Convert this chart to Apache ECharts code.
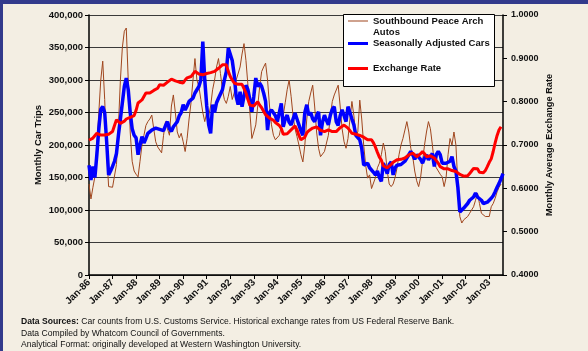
<!DOCTYPE html>
<html>
<head>
<meta charset="utf-8">
<script src="https://cdn.jsdelivr.net/npm/echarts@6/dist/echarts.min.js"></script>
<style>
  html, body { margin: 0; padding: 0; background: #F3EEE3; }
  #chart { width: 588px; height: 351px; }
</style>
</head>
<body>
<div id="chart"></div>
<script>
// Monthly series, January 1986 onward
const monthNames = ['Jan','Feb','Mar','Apr','May','Jun','Jul','Aug','Sep','Oct','Nov','Dec'];
const yearSuffixes = ['86','87','88','89','90','91','92','93','94','95','96','97','98','99','00','01','02','03'];

// Southbound Peace Arch autos (raw monthly counts)
const southboundAutos = [
  140000,117000,135000,151000,200000,250000,300000,329000,270000,190000,136000,135000,
  135000,135000,170000,230000,300000,350000,375000,380000,300000,220000,175000,160000,
  155000,151000,175000,200000,215000,230000,236000,240000,246000,225000,205000,197000,
  195000,188000,215000,236000,225000,215000,260000,277000,250000,220000,211000,218000,
  205000,190000,210000,240000,265000,300000,333000,300000,290000,270000,250000,236000,
  250000,245000,260000,285000,300000,320000,333000,310000,285000,270000,264000,275000,
  290000,270000,280000,300000,303000,320000,340000,356000,330000,292000,250000,210000,
  220000,231000,260000,290000,313000,320000,326000,300000,260000,231000,215000,208000,
  208000,215000,230000,246000,265000,285000,300000,275000,245000,225000,213000,200000,
  185000,174000,200000,240000,267000,280000,292000,260000,220000,195000,182000,185000,
  190000,190000,215000,245000,267000,277000,280000,292000,260000,225000,205000,195000,
  210000,240000,267000,245000,215000,220000,269000,240000,200000,169000,149000,154000,
  133000,135000,150000,165000,172000,185000,203000,190000,160000,140000,136000,140000,
  150000,165000,185000,200000,210000,223000,236000,220000,195000,182000,160000,145000,
  136000,150000,175000,200000,220000,236000,225000,200000,172000,165000,160000,155000,
  151000,136000,150000,185000,210000,200000,220000,200000,140000,90000,80000,85000,
  88000,90000,95000,100000,105000,115000,126000,110000,95000,92000,90000,88000,
  90000,105000,110000,118000,128000,135000,140000
];

// Seasonally adjusted cars
const adjustedCars = [
  169000,146000,167000,150000,185000,225000,255000,259000,250000,205000,154000,160000,
  167000,175000,187000,215000,240000,265000,290000,303000,285000,250000,225000,215000,
  211000,185000,200000,213000,203000,210000,218000,220000,223000,220000,226000,225000,
  224000,224000,222000,230000,236000,225000,221000,228000,232000,236000,245000,250000,
  262000,254000,260000,267000,264000,272000,280000,282000,290000,300000,359000,300000,
  260000,231000,218000,262000,250000,265000,272000,272000,285000,300000,313000,349000,
  346000,330000,308000,275000,262000,282000,259000,275000,292000,285000,270000,251000,
  275000,303000,290000,295000,290000,280000,267000,223000,250000,254000,251000,245000,
  236000,250000,264000,228000,240000,246000,235000,231000,240000,249000,240000,231000,
  222000,215000,250000,262000,246000,250000,240000,236000,245000,251000,215000,235000,
  246000,238000,231000,246000,255000,259000,236000,230000,245000,254000,245000,236000,
  259000,250000,240000,231000,215000,212000,208000,195000,169000,172000,172000,165000,
  162000,158000,154000,160000,150000,144000,172000,165000,156000,170000,174000,154000,
  165000,169000,172000,170000,172000,175000,180000,185000,190000,185000,178000,185000,
  182000,178000,172000,180000,185000,177000,180000,187000,167000,185000,190000,185000,
  172000,170000,172000,169000,175000,182000,167000,160000,135000,97000,100000,103000,
  105000,110000,115000,115000,120000,126000,120000,123000,115000,110000,110000,112000,
  115000,118000,122000,128000,135000,141000,148000,156000
];

// Monthly average exchange rate (US$ per C$)
const exchangeRate = [
  0.711,0.712,0.716,0.720,0.727,0.725,0.723,0.722,0.723,0.723,0.725,0.728,
  0.731,0.745,0.758,0.755,0.750,0.752,0.755,0.760,0.762,0.764,0.765,0.768,
  0.780,0.797,0.800,0.804,0.812,0.820,0.818,0.820,0.823,0.826,0.828,0.831,
  0.839,0.840,0.838,0.842,0.845,0.848,0.852,0.852,0.848,0.845,0.845,0.845,
  0.843,0.850,0.855,0.858,0.858,0.862,0.870,0.873,0.864,0.862,0.862,0.863,
  0.865,0.866,0.867,0.869,0.870,0.873,0.877,0.880,0.885,0.889,0.885,0.870,
  0.858,0.850,0.843,0.842,0.840,0.839,0.840,0.838,0.820,0.805,0.792,0.789,
  0.790,0.795,0.800,0.792,0.786,0.778,0.770,0.766,0.762,0.758,0.757,0.752,
  0.748,0.745,0.738,0.725,0.723,0.726,0.730,0.735,0.739,0.744,0.735,0.722,
  0.712,0.712,0.718,0.728,0.733,0.736,0.739,0.741,0.742,0.738,0.734,0.731,
  0.731,0.733,0.735,0.733,0.731,0.730,0.731,0.735,0.740,0.744,0.746,0.742,
  0.739,0.733,0.727,0.723,0.725,0.723,0.722,0.723,0.718,0.714,0.712,0.712,
  0.712,0.705,0.695,0.683,0.672,0.665,0.652,0.648,0.647,0.646,0.655,0.660,
  0.664,0.666,0.666,0.667,0.668,0.670,0.673,0.677,0.681,0.681,0.677,0.673,
  0.675,0.680,0.685,0.680,0.673,0.673,0.675,0.677,0.670,0.664,0.658,0.650,
  0.648,0.645,0.648,0.645,0.642,0.641,0.640,0.639,0.636,0.632,0.630,0.628,
  0.627,0.629,0.634,0.640,0.646,0.650,0.645,0.637,0.635,0.636,0.641,0.650,
  0.660,0.668,0.685,0.705,0.722,0.735,0.742
];

// Category axis: one slot per month through Aug-03
const months = [];
yearSuffixes.forEach(y => monthNames.forEach(m => months.push(m + '-' + y)));
const categories = months.slice(0, adjustedCars.length);

const FONT = '"Liberation Sans", Arial, sans-serif';
const isJanuary = (idx) => idx % 12 === 0;

// Legend icons: a line drawn at the top of a taller box so it sits beside the first text line
const thinIcon = 'path://M0,0L20,0L20,1L0,1Z M0,12L0.01,12';

const chart = echarts.init(document.getElementById('chart'), null, { renderer: 'canvas' });

chart.setOption({
  backgroundColor: '#F3EEE3',
  animation: false,
  grid: { left: 89, right: 85, top: 15, bottom: 76, containLabel: false },
  xAxis: {
    type: 'category',
    data: categories,
    boundaryGap: false,
    axisLine: { lineStyle: { color: '#000', width: 1.5 } },
    axisTick: { show: true, interval: (idx) => isJanuary(idx), length: 4, lineStyle: { color: '#000' } },
    axisLabel: {
      interval: (idx) => isJanuary(idx),
      rotate: 45,
      margin: 6,
      fontFamily: FONT, fontSize: 9.8, fontWeight: 'bold', color: '#111'
    },
    splitLine: { show: false }
  },
  yAxis: [
    {
      type: 'value',
      min: 0, max: 400000, interval: 50000,
      name: 'Monthly Car Trips',
      nameLocation: 'middle',
      nameRotate: 90,
      nameGap: 46,
      nameMoveOverlap: false,
      nameTextStyle: { fontFamily: FONT, fontSize: 9.5, fontWeight: 'bold', color: '#111' },
      axisLine: { show: true, lineStyle: { color: '#000', width: 1.5 } },
      axisTick: { show: true, length: 4, lineStyle: { color: '#000' } },
      axisLabel: {
        margin: 6,
        fontFamily: FONT, fontSize: 9.5, fontWeight: 'bold', color: '#111',
        formatter: (v) => v.toLocaleString('en-US')
      },
      splitLine: { show: true, lineStyle: { color: '#3a3a3a', width: 1 } }
    },
    {
      type: 'value',
      min: 0.4, max: 1.0, interval: 0.1,
      position: 'right',
      name: 'Monthly Average Exchange Rate',
      nameLocation: 'middle',
      nameRotate: 90,
      nameGap: 42,
      nameMoveOverlap: false,
      nameTextStyle: { fontFamily: FONT, fontSize: 9.2, fontWeight: 'bold', color: '#111' },
      axisLine: { show: true, lineStyle: { color: '#000', width: 1.5 } },
      axisTick: { show: true, length: 4, lineStyle: { color: '#000' } },
      axisLabel: {
        margin: 8,
        fontFamily: FONT, fontSize: 9, fontWeight: 'bold', color: '#111',
        formatter: (v) => v.toFixed(4)
      },
      splitLine: { show: false }
    }
  ],
  legend: [
    {
      data: ['Southbound Peace Arch Autos'],
      left: 348, top: 15.5, padding: 0,
      itemWidth: 20, itemHeight: 12, icon: thinIcon,
      formatter: () => 'Southbound Peace Arch\nAutos',
      textStyle: { fontFamily: FONT, fontSize: 9.5, fontWeight: 'bold', color: '#111', lineHeight: 11 },
      selectedMode: false
    },
    {
      data: ['Seasonally Adjusted Cars'],
      left: 348, top: 38.5, padding: 0,
      itemWidth: 20, itemHeight: 3, icon: 'rect',
      textStyle: { fontFamily: FONT, fontSize: 9.5, fontWeight: 'bold', color: '#111' },
      selectedMode: false
    },
    {
      data: ['Exchange Rate'],
      left: 348, top: 63.5, padding: 0,
      itemWidth: 20, itemHeight: 3, icon: 'rect',
      textStyle: { fontFamily: FONT, fontSize: 9.5, fontWeight: 'bold', color: '#111' },
      selectedMode: false
    }
  ],
  graphic: [
    // page frame bands
    { type: 'rect', left: 0, top: 0, shape: { width: 588, height: 4 }, style: { fill: '#323A8C' }, z: 10 },
    { type: 'rect', left: 0, top: 0, shape: { width: 3, height: 351 }, style: { fill: '#323A8C' }, z: 10 },
    // legend frame
    { type: 'rect', left: 343, top: 14, shape: { width: 151, height: 72 }, style: { fill: '#fff', stroke: '#000', lineWidth: 1 }, z: 3 },
    // source notes
    {
      type: 'text', left: 21, top: 317, z: 10,
      style: {
        text: '{b|Data Sources:} Car counts from U.S. Customs Service. Historical exchange rates from US Federal Reserve Bank.',
        font: '8.6px ' + FONT, fill: '#111',
        rich: { b: { fontWeight: 'bold', fontFamily: FONT, fontSize: 8.6, fill: '#111' } }
      }
    },
    { type: 'text', left: 21, top: 329, z: 10, style: { text: 'Data Compiled by Whatcom Council of Governments.', font: '8.6px ' + FONT, fill: '#111' } },
    { type: 'text', left: 21, top: 340, z: 10, style: { text: 'Analytical Format: originally developed at Western Washington University.', font: '8.6px ' + FONT, fill: '#111' } }
  ],
  series: [
    {
      name: 'Southbound Peace Arch Autos',
      type: 'line', yAxisIndex: 0,
      data: southboundAutos,
      symbol: 'none', z: 2,
      lineStyle: { color: '#A0461E', width: 1 },
      itemStyle: { color: '#A0461E' }
    },
    {
      name: 'Seasonally Adjusted Cars',
      type: 'line', yAxisIndex: 0,
      data: adjustedCars,
      symbol: 'none', z: 2,
      lineStyle: { color: '#0000FF', width: 3.5 },
      itemStyle: { color: '#0000FF' }
    },
    {
      name: 'Exchange Rate',
      type: 'line', yAxisIndex: 1,
      data: exchangeRate,
      symbol: 'none', z: 2,
      lineStyle: { color: '#FF0000', width: 3 },
      itemStyle: { color: '#FF0000' }
    }
  ]
});
</script>
</body>
</html>
